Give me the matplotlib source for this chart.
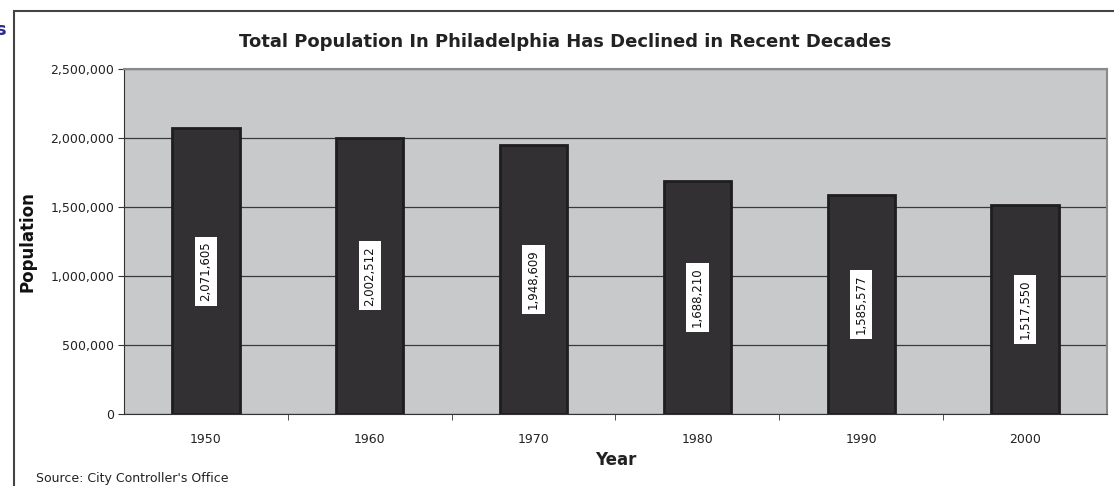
import matplotlib.pyplot as plt
from matplotlib.patches import Rectangle

years = ['1950', '1960', '1970', '1980', '1990', '2000']
population = [2071605, 2002512, 1948609, 1688210, 1585577, 1517550]
yticks = [0, 500000, 1000000, 1500000, 2000000, 2500000]

W, H = 1114, 486
fig = plt.figure(figsize=(W / 100, H / 100), dpi=100)
plt.rcParams['font.family'] = ['DejaVu Sans']

# plot area in pixels
left, right, top, bottom = 124, 1107, 69, 414
ax = fig.add_axes([left / W, 1 - bottom / H, (right - left) / W, (bottom - top) / H])
ax.set_facecolor('#c8c9cb')

x = range(len(years))
ax.bar(x, population, width=0.41, color='#333033', edgecolor='#1f1d1f', linewidth=2, zorder=3)
ax.set_xlim(-0.5, len(years) - 0.5)
ax.set_ylim(0, 2500000)

ax.set_yticks(yticks)
ax.set_yticklabels([f'{v:,}' for v in yticks], fontsize=9, color='#222')
ax.set_xticks(list(x))
ax.set_xticklabels(years, fontsize=9, color='#222')
ax.set_xticks([i + 0.5 for i in range(len(years) - 1)], minor=True)
ax.tick_params(axis='x', which='major', length=0, pad=14)
ax.tick_params(axis='x', which='minor', length=4, color='#333')
ax.tick_params(axis='y', length=4, color='#333', pad=3)
ax.grid(axis='y', color='#3a3a3a', linewidth=0.9, zorder=1)

for s in ['top', 'right']:
    ax.spines[s].set_color('#8a8a8a')
    ax.spines[s].set_linewidth(1.5)
ax.spines['left'].set_color('#333')
ax.spines['bottom'].set_color('#333')

for i, v in enumerate(population):
    ax.text(i, v / 2, f'{v:,}', rotation=90, ha='center', va='center', fontsize=8.5,
            color='#111', zorder=4,
            bbox=dict(boxstyle='square,pad=0.4', facecolor='white', edgecolor='none'))

ax.set_ylabel('Population', fontsize=12, fontweight='bold', labelpad=10, color='#111')
ax.set_xlabel('Year', fontsize=12, fontweight='bold', labelpad=3, color='#222')

fig.text(565 / W, 1 - 42 / H, 'Total Population In Philadelphia Has Declined in Recent Decades',
         ha='center', va='center', fontsize=13, fontweight='bold', color='#222')
fig.text(36 / W, 1 - 478 / H, "Source: City Controller's Office", ha='left', va='center',
         fontsize=9, color='#222')
fig.text(6 / W, 1 - 30 / H, 's', ha='right', va='center', fontsize=13, fontweight='bold',
         color='#2b2b90')

# chart frame
fig.patches.append(Rectangle((14 / W, -0.1), 1.2, 1 - 11 / H + 0.1, transform=fig.transFigure,
                             fill=False, edgecolor='#444', linewidth=1.5))

fig.savefig('out.png', dpi=100)
